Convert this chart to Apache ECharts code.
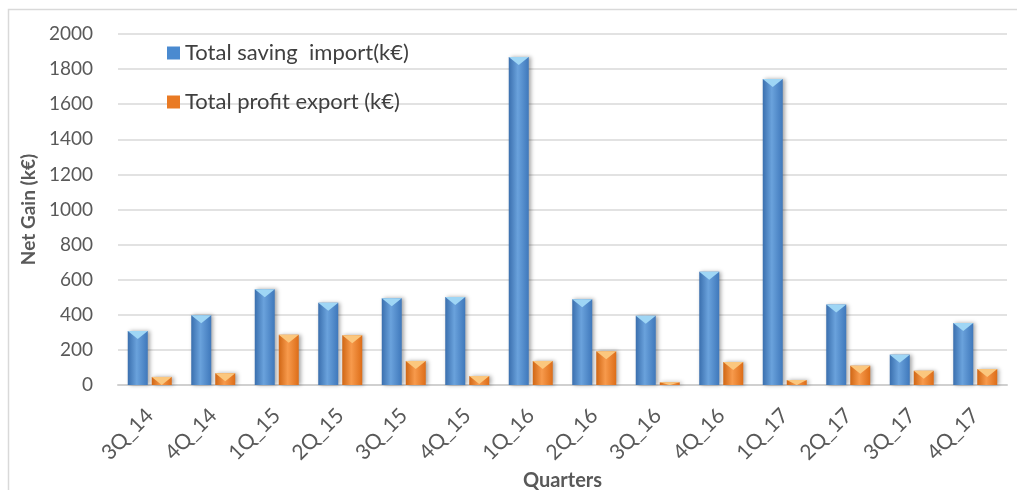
<!DOCTYPE html>
<html>
<head>
<meta charset="utf-8">
<style>
  html, body { margin: 0; padding: 0; background: #fff; }
  #chart { width: 1017px; height: 490px; }
</style>
<script src="https://cdn.jsdelivr.net/npm/echarts@6/dist/echarts.min.js"></script>
</head>
<body>
<div id="chart"></div>
<script>
// Quarterly net gain, in k€
const quarters = ['3Q_14', '4Q_14', '1Q_15', '2Q_15', '3Q_15', '4Q_15', '1Q_16', '2Q_16', '3Q_16', '4Q_16', '1Q_17', '2Q_17', '3Q_17', '4Q_17'];
const savingImport = [308, 397, 545, 469, 494, 501, 1869, 488, 395, 646, 1744, 458, 173, 353];
const profitExport = [46, 67, 287, 283, 137, 51, 137, 192, 15, 131, 28, 110, 81, 91];
const yTicks = { min: 0, max: 2000, step: 200 };

const FONT = 'Lato';
const BAR_W = 20;
const GAP = '20%';
const CAP_H = 8;

function shade(light, mid, dark) {
  return {
    type: 'linear', x: 0, y: 0, x2: 1, y2: 0,
    colorStops: [
      { offset: 0, color: dark },
      { offset: 0.45, color: light },
      { offset: 1, color: mid }
    ]
  };
}

const blueFill = shade('#6aa2dc', '#3f78bb', '#3a6fae');
const orangeFill = shade('#f79a4c', '#dd6d18', '#d06614');
const capPath = 'path://M0,0 L10,0 L5,4 Z';

// bevelled cap on each bar top, never taller than the bar itself
function caps(values) {
  const pxPerUnit = 351 / (yTicks.max - yTicks.min);
  return values.map(v => ({
    value: v,
    symbolSize: [BAR_W, Math.min(CAP_H, v * pxPerUnit)]
  }));
}

const chart = echarts.init(document.getElementById('chart'));
chart.setOption({
  animation: false,
  grid: { left: 118, right: 10, top: 34, bottom: 105, containLabel: false, outerBoundsMode: 'none' },
  legend: {
    orient: 'vertical',
    left: 162, top: 37,
    itemGap: 27,
    itemWidth: 13, itemHeight: 13,
    textStyle: { fontFamily: FONT, fontSize: 22, color: '#404040' },
    data: [
      { name: 'Total saving  import(k€)', icon: 'rect', itemStyle: { color: '#4a8ad0' } },
      { name: 'Total profit export (k€)', icon: 'rect', itemStyle: { color: '#e97a24' } }
    ]
  },
  graphic: [{
    type: 'rect', silent: true,
    shape: { x: 8.5, y: 9.5, width: 1100, height: 600 },
    style: { fill: 'none', stroke: '#d9d9d9', lineWidth: 1.5 }
  }],
  xAxis: {
    type: 'category',
    data: quarters,
    name: 'Quarters',
    nameLocation: 'middle',
    nameGap: 84,
    nameTextStyle: { fontFamily: FONT, fontSize: 20, fontWeight: 'bold', color: '#595959' },
    axisLine: { lineStyle: { color: '#d0d0d0', width: 2 } },
    axisTick: { show: false },
    axisLabel: { rotate: 45, margin: 27, fontFamily: FONT, fontSize: 21, color: '#595959' }
  },
  yAxis: {
    type: 'value',
    min: yTicks.min, max: yTicks.max, interval: yTicks.step,
    name: 'Net Gain (k€)',
    nameLocation: 'middle',
    nameGap: 77,
    nameTextStyle: { fontFamily: FONT, fontSize: 19, fontWeight: 'bold', color: '#595959' },
    axisLine: { show: false },
    axisTick: { show: false },
    axisLabel: {
      margin: 25, fontFamily: FONT, fontSize: 19, color: '#595959',
      formatter: v => String(v)
    },
    splitLine: { lineStyle: { color: '#d9d9d9', width: 1.5 } }
  },
  series: [
    {
      name: 'Total saving  import(k€)', type: 'bar', data: savingImport,
      barWidth: BAR_W, barGap: GAP,
      itemStyle: { color: blueFill, shadowColor: 'rgba(0,0,0,0.35)', shadowBlur: 4, shadowOffsetX: 2 }
    },
    {
      name: 'Total profit export (k€)', type: 'bar', data: profitExport,
      barWidth: BAR_W, barGap: GAP,
      itemStyle: { color: orangeFill, shadowColor: 'rgba(0,0,0,0.35)', shadowBlur: 4, shadowOffsetX: 2 }
    },
    {
      name: 'Total saving  import(k€)', type: 'pictorialBar', data: caps(savingImport),
      barWidth: BAR_W, barGap: GAP, z: 5,
      symbol: capPath, symbolPosition: 'end',
      itemStyle: { color: '#9fd6f5' }
    },
    {
      name: 'Total profit export (k€)', type: 'pictorialBar', data: caps(profitExport),
      barWidth: BAR_W, barGap: GAP, z: 5,
      symbol: capPath, symbolPosition: 'end',
      itemStyle: { color: '#fbc77e' }
    }
  ]
});
</script>
</body>
</html>
